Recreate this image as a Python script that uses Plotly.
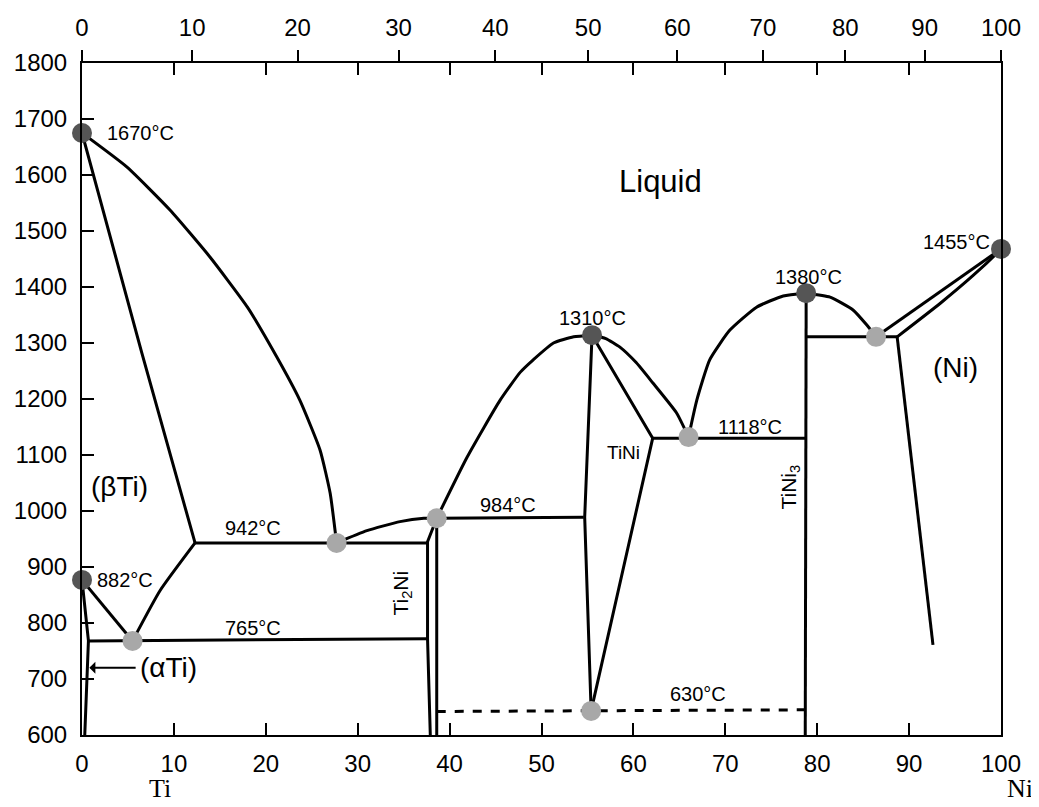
import plotly.graph_objects as go

# ---------------- data (weight % Ni, temperature degC) ----------------
WT_TICKS = [0, 10, 20, 30, 40, 50, 60, 70, 80, 90, 100]
T_TICKS = [600, 700, 800, 900, 1000, 1100, 1200, 1300, 1400, 1500, 1600, 1700, 1800]
AT_TICKS = [0, 10, 20, 30, 40, 50, 60, 70, 80, 90, 100]
M_NI, M_TI = 58.69, 47.87

# liquidus Ti side: 1670 -> eutectic 942
liq1_x = [0, 4.9, 9.6, 13.9, 18.0, 21.2, 23.7, 25.9, 27.0, 27.7]
liq1_y = [1675, 1614, 1537, 1454, 1364, 1275, 1198, 1109, 1032, 943]
# (beta Ti) solidus
sol1_x = [0, 6.5, 12.3]
sol1_y = [1675, 1283, 943]
# beta solvus from eutectoid to 942 line
bsolv_x = [5.5, 8.5, 12.3]
bsolv_y = [768, 858, 943]
# alpha/beta line from 882 to eutectoid
ab_x = [0, 5.5]
ab_y = [877, 768]
# alpha Ti solvus
asolv_x = [0, 0.7, 0.3]
asolv_y = [877, 768, 600]
# eutectic line 942
e942_x = [12.3, 37.6]
e942_y = [943, 943]
# eutectoid line 765
e765_x = [0.7, 37.6]
e765_y = [768, 772]
# liquidus 942 -> 984
liq2_x = [27.7, 31.0, 34.6, 37.2, 38.6]
liq2_y = [943, 965, 981, 987, 987]
# Ti2Ni boundaries
ti2ni_l_x = [38.6, 37.6, 37.6, 37.9]
ti2ni_l_y = [987, 945, 772, 600]
ti2ni_r_x = [38.6, 38.6]
ti2ni_r_y = [987, 600]
# peritectic line 984
p984_x = [38.6, 54.6]
p984_y = [987, 989]
# liquidus 984 -> 1310
liq3_x = [38.6, 41.9, 45.5, 47.7, 49.1, 51.3, 53.5, 55.5]
liq3_y = [987, 1096, 1198, 1248, 1270, 1300, 1311, 1314]
# liquidus 1310 -> 1118
liq4_x = [55.5, 57.0, 58.5, 60.3, 62.1, 64.7, 66.0]
liq4_y = [1314, 1308, 1293, 1265, 1229, 1175, 1132]
# TiNi boundaries
tini_l_x = [55.5, 54.7, 55.4]
tini_l_y = [1314, 989, 643]
tini_r_x = [55.5, 62.1, 55.4]
tini_r_y = [1314, 1130, 643]
# eutectic line 1118
e1118_x = [62.1, 78.8]
e1118_y = [1130, 1130]
# liquidus 1118 -> 1380
liq5_x = [66.0, 66.9, 68.3, 70.5, 73.4, 76.3, 78.8]
liq5_y = [1132, 1198, 1270, 1323, 1364, 1384, 1389]
# TiNi3
tini3_x = [78.8, 78.7]
tini3_y = [1389, 600]
# liquidus 1380 -> eutectic ~1304
liq6_x = [78.8, 81.4, 83.9, 85.4, 86.4]
liq6_y = [1389, 1382, 1359, 1332, 1311]
# eutectic line
e1304_x = [78.8, 88.7]
e1304_y = [1311, 1311]
# liquidus / solidus Ni side
liq7_x = [86.4, 100]
liq7_y = [1311, 1468]
sol7_x = [88.7, 93.4, 97.0, 99.6, 100]
sol7_y = [1311, 1371, 1421, 1461, 1468]
# (Ni) solvus
nisolv_x = [88.7, 92.6]
nisolv_y = [1311, 761]
# eutectoid 630 (dashed)
e630_x = [38.6, 78.7]
e630_y = [642, 645]

# invariant points
dark_x = [0, 0, 55.5, 78.8, 100]
dark_y = [1675, 877, 1314, 1389, 1468]
light_x = [5.5, 27.7, 38.6, 66.0, 55.4, 86.4]
light_y = [768, 943, 987, 1132, 643, 1311]

# labels
lab_text = ["1670°C", "882°C", "942°C", "765°C", "984°C", "630°C", "1310°C",
            "1118°C", "1380°C", "1455°C"]
lab_x = [2.5, 1.4, 18.6, 18.6, 46.4, 67.0, 55.5, 72.7, 79.0, 99.0]
lab_y = [1675, 877, 970, 791, 1011, 673, 1345, 1150, 1418, 1480]
lab_anchor = ["left", "left", "center", "center", "center", "center", "center",
              "center", "center", "right"]

FONT = "Liberation Sans, Arial, sans-serif"
SERIF = "Liberation Serif, Times New Roman, serif"
fig = go.Figure()

segments = [
    (liq1_x, liq1_y, True), (sol1_x, sol1_y, True), (bsolv_x, bsolv_y, True),
    (ab_x, ab_y, False), (asolv_x, asolv_y, False), (e942_x, e942_y, False),
    (e765_x, e765_y, False), (liq2_x, liq2_y, True), (ti2ni_l_x, ti2ni_l_y, False),
    (ti2ni_r_x, ti2ni_r_y, False), (p984_x, p984_y, False), (liq3_x, liq3_y, True),
    (liq4_x, liq4_y, True), (tini_l_x, tini_l_y, False), (tini_r_x, tini_r_y, False),
    (e1118_x, e1118_y, False), (liq5_x, liq5_y, True), (tini3_x, tini3_y, False),
    (liq6_x, liq6_y, True), (e1304_x, e1304_y, False), (liq7_x, liq7_y, False),
    (sol7_x, sol7_y, True), (nisolv_x, nisolv_y, False),
]
for sx, sy, smooth in segments:
    fig.add_trace(go.Scatter(
        x=sx, y=sy, mode="lines",
        line=dict(color="black", width=3,
                  shape="spline" if smooth else "linear", smoothing=0.5),
        hoverinfo="skip", showlegend=False, cliponaxis=False))

fig.add_trace(go.Scatter(x=e630_x, y=e630_y, mode="lines",
                         line=dict(color="black", width=3, dash="dash"),
                         showlegend=False, hoverinfo="skip"))

fig.add_trace(go.Scatter(x=dark_x, y=dark_y, mode="markers",
                         marker=dict(size=20, color="#555555"),
                         showlegend=False, cliponaxis=False))
fig.add_trace(go.Scatter(x=light_x, y=light_y, mode="markers",
                         marker=dict(size=20, color="#a8a8a8"),
                         showlegend=False, cliponaxis=False))

# invisible trace to activate the top axis
fig.add_trace(go.Scatter(x=[0, 100], y=[600, 600], xaxis="x2", mode="markers",
                         marker=dict(opacity=0), showlegend=False, hoverinfo="skip"))

for t, x, y, a in zip(lab_text, lab_x, lab_y, lab_anchor):
    fig.add_annotation(x=x, y=y, text=t, showarrow=False, xanchor=a,
                       font=dict(family=FONT, size=20, color="black"))

region_text = ["Liquid", "(βTi)", "(Ni)", "TiNi"]
region_x = [62.9, 4.1, 95.0, 58.9]
region_y = [1588, 1043, 1257, 1104]
region_size = [31, 28, 28, 19]
for t, x, y, s in zip(region_text, region_x, region_y, region_size):
    fig.add_annotation(x=x, y=y, text=t, showarrow=False,
                       font=dict(family=FONT, size=s, color="black"))

fig.add_annotation(x=34.8, y=854, text="Ti<sub>2</sub>Ni", textangle=-90, showarrow=False,
                   font=dict(family=FONT, size=21, color="black"))
fig.add_annotation(x=77.0, y=1043, text="TiNi<sub>3</sub>", textangle=-90, showarrow=False,
                   font=dict(family=FONT, size=21, color="black"))

# (alpha Ti) with arrow
fig.add_annotation(x=0.8, y=720, ax=6.0, ay=720, axref="x", ayref="y",
                   text="", showarrow=True, arrowhead=1, arrowsize=1,
                   arrowwidth=2, arrowcolor="black")
fig.add_annotation(x=9.4, y=721, text="(αTi)", showarrow=False,
                   font=dict(family=FONT, size=28, color="black"))

# element labels (below the axis, positioned in paper space)
fig.add_annotation(x=0.085, xref="paper", xanchor="center", y=-0.08, yref="paper",
                   yanchor="middle", text="Ti", showarrow=False,
                   font=dict(family=SERIF, size=26, color="black"))
fig.add_annotation(x=1.021, xref="paper", xanchor="center", y=-0.08, yref="paper",
                   yanchor="middle", text="Ni", showarrow=False,
                   font=dict(family=SERIF, size=26, color="black"))

top_vals = [a * M_NI / (a * M_NI + (100 - a) * M_TI) * 100 for a in AT_TICKS]

fig.update_layout(
    width=1031, height=799,
    margin=dict(l=74, r=38, t=55, b=72),
    paper_bgcolor="white", plot_bgcolor="white",
    font=dict(family=FONT, size=24, color="black"),
    xaxis=dict(range=[0, 100], tickvals=WT_TICKS, ticktext=[str(v) for v in WT_TICKS],
               ticks="inside", ticklen=12, tickwidth=2, tickcolor="black",
               showline=True, linewidth=2, linecolor="black", mirror="ticks",
               showgrid=False, zeroline=False, ticklabelstandoff=6,
               tickfont=dict(size=24), automargin=False),
    xaxis2=dict(range=[0, 100], overlaying="x", side="top", tickvals=top_vals,
                ticktext=[str(v) for v in AT_TICKS], ticks="outside", ticklen=12,
                tickwidth=2, tickcolor="black", showline=False, showgrid=False,
                zeroline=False, ticklabelstandoff=4, tickfont=dict(size=24),
                automargin=False),
    yaxis=dict(range=[600, 1800], tickvals=T_TICKS, ticks="inside", ticklen=12,
               tickwidth=2, tickcolor="black", showline=True, linewidth=2,
               linecolor="black", mirror=True, showgrid=False, zeroline=False,
               ticklabelstandoff=8, tickfont=dict(size=24), automargin=False),
)

fig.write_html("out.html")
